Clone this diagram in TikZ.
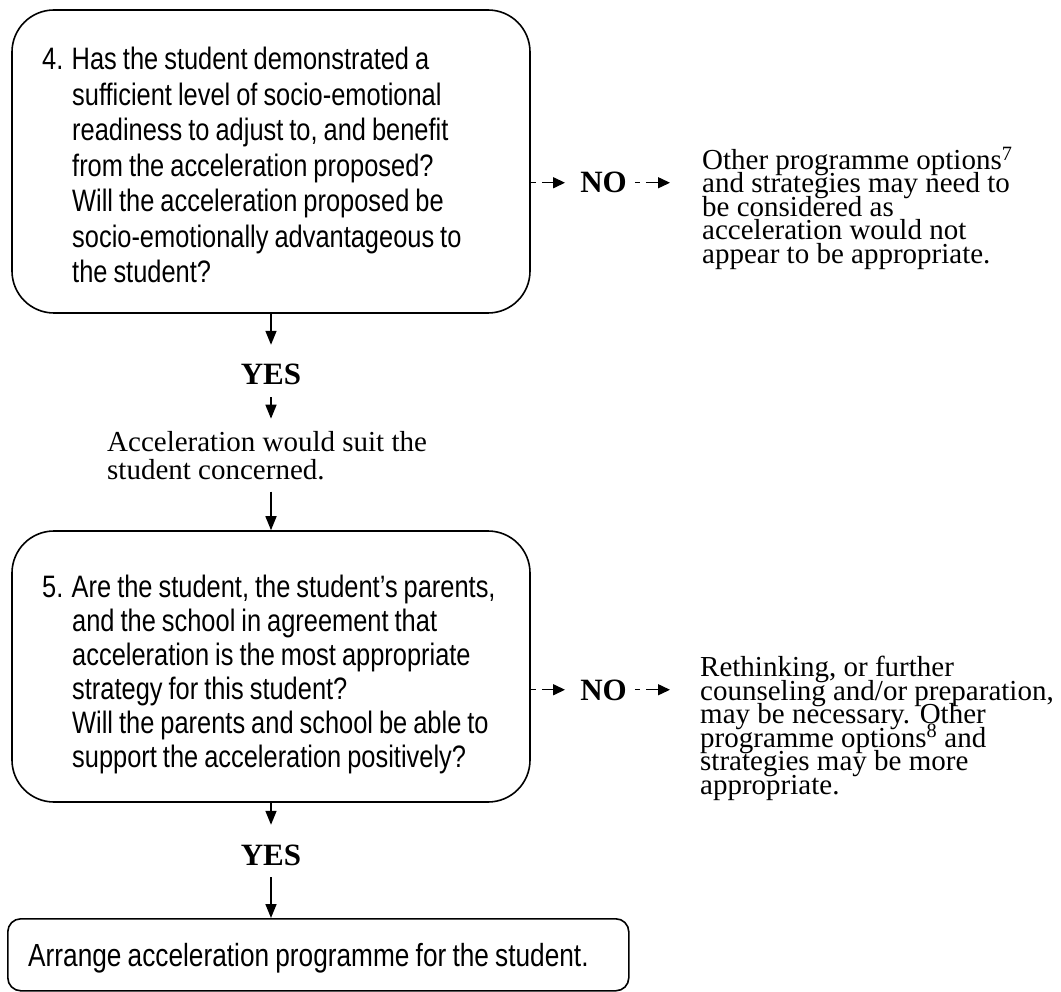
\documentclass[tikz,border=0pt]{standalone}
\usepackage{fontspec}
\setmainfont{Liberation Serif}
\newfontfamily\qfam[FakeStretch=0.82,WordSpace=0.85]{Liberation Sans}
\usetikzlibrary{arrows.meta}
\newcommand\fqa{\qfam\fontsize{31pt}{35.5pt}\selectfont\lineskiplimit=-50pt}
\newcommand\fqb{\qfam\fontsize{31pt}{34pt}\selectfont\lineskiplimit=-50pt}
\newcommand\fqc{\qfam\fontsize{32pt}{34pt}\selectfont}
\newcommand\fright{\fontsize{29pt}{23.5pt}\selectfont\lineskiplimit=-50pt}
\newcommand\fsuit{\fontsize{29pt}{28pt}\selectfont\lineskiplimit=-50pt}
\newcommand\fyes{\bfseries\fontsize{31pt}{31pt}\selectfont}
\begin{document}
\begin{tikzpicture}[x=1pt,y=-1pt,
  qbox/.style={draw, line width=1.6pt, rounded corners=42pt, inner sep=0pt},
  qtext/.style={align=left, inner sep=0pt, anchor=base west},
  yeslab/.style={font=\fyes, anchor=base, text height=28pt, text depth=0pt, inner ysep=12pt, inner xsep=8pt},
  nolab/.style={font=\fyes, anchor=base, text height=20.5pt, text depth=0pt, inner ysep=4pt, inner xsep=8pt},
  rtext/.style={align=left, inner sep=0pt, anchor=base west, font=\fright},
  arr/.style={line width=1.6pt, -{Triangle[length=14pt,width=11pt]}},
  noarr/.style={line width=1.4pt, dash pattern=on 5pt off 6pt on 40pt off 1pt, -{Triangle[length=12pt,width=11pt]}}
]
\useasboundingbox (0,0) rectangle (1061,992);

% Question 4
\node[qbox, minimum width=518pt, minimum height=303pt] (q4) at (271,161.5) {};
\node[qtext, font=\fqa] (q4t) at (42,283) {4. Has the student demonstrated a\\
\hspace*{30pt}sufficient level of socio-emotional\\
\hspace*{30pt}readiness to adjust to, and benefit\\
\hspace*{30pt}from the acceleration proposed?\\
\hspace*{30pt}Will the acceleration proposed be\\
\hspace*{30pt}socio-emotionally advantageous to\\
\hspace*{30pt}the student?};

\node[nolab] (no1) at (603.5,193) {NO};
\node[rtext] (alt1) at (702,263.5) {Other programme options\textsuperscript{7}\\
and strategies may need to\\
be considered as\\
acceleration would not\\
appear to be appropriate.};
\draw[noarr, shorten >=7pt] (no1.west -| q4.east) -- (no1.west);
\draw[noarr, shorten >=32pt] (no1.east) -- (no1.east -| alt1.west);

\node[yeslab] (yes1) at (271,385) {YES};
\draw[arr] (q4.south) -- (yes1.north);

\node[qtext, font=\fsuit, inner ysep=12pt] (suit) at (107,479) {Acceleration would suit the\\
student concerned.};
\draw[arr] (yes1.south) -- (yes1.south |- suit.north);

% Question 5
\node[qbox, minimum width=518pt, minimum height=271pt] (q5) at (271,666.5) {};
\draw[arr] (suit.south -| q5.north) -- (q5.north);
\node[qtext, font=\fqb] (q5t) at (42,767) {5. Are the student, the student’s parents,\\
\hspace*{30pt}and the school in agreement that\\
\hspace*{30pt}acceleration is the most appropriate\\
\hspace*{30pt}strategy for this student?\\
\hspace*{30pt}Will the parents and school be able to\\
\hspace*{30pt}support the acceleration positively?};

\node[nolab] (no2) at (603.5,700) {NO};
\node[rtext] (alt2) at (700,794) {Rethinking, or further\\
counseling and/or preparation,\\
may be necessary. Other\\
programme options\textsuperscript{8} and\\
strategies may be more\\
appropriate.};
\draw[noarr, shorten >=7pt] (no2.west -| q5.east) -- (no2.west);
\draw[noarr, shorten >=30pt] (no2.east) -- (no2.east -| alt2.west);

\node[yeslab] (yes2) at (271,865) {YES};
\draw[arr] (q5.south) -- (yes2.north);

% Final box
\node[draw, line width=1.6pt, rounded corners=13pt, minimum width=621pt, minimum height=72pt,
  inner sep=0pt, anchor=north west] (q6) at (7,918) {};
\node[qtext, font=\fqc] (q6t) at (28,966) {Arrange acceleration programme for the student.};
\draw[arr] (yes2.south) -- (yes2.south |- q6.north);
\end{tikzpicture}
\end{document}
